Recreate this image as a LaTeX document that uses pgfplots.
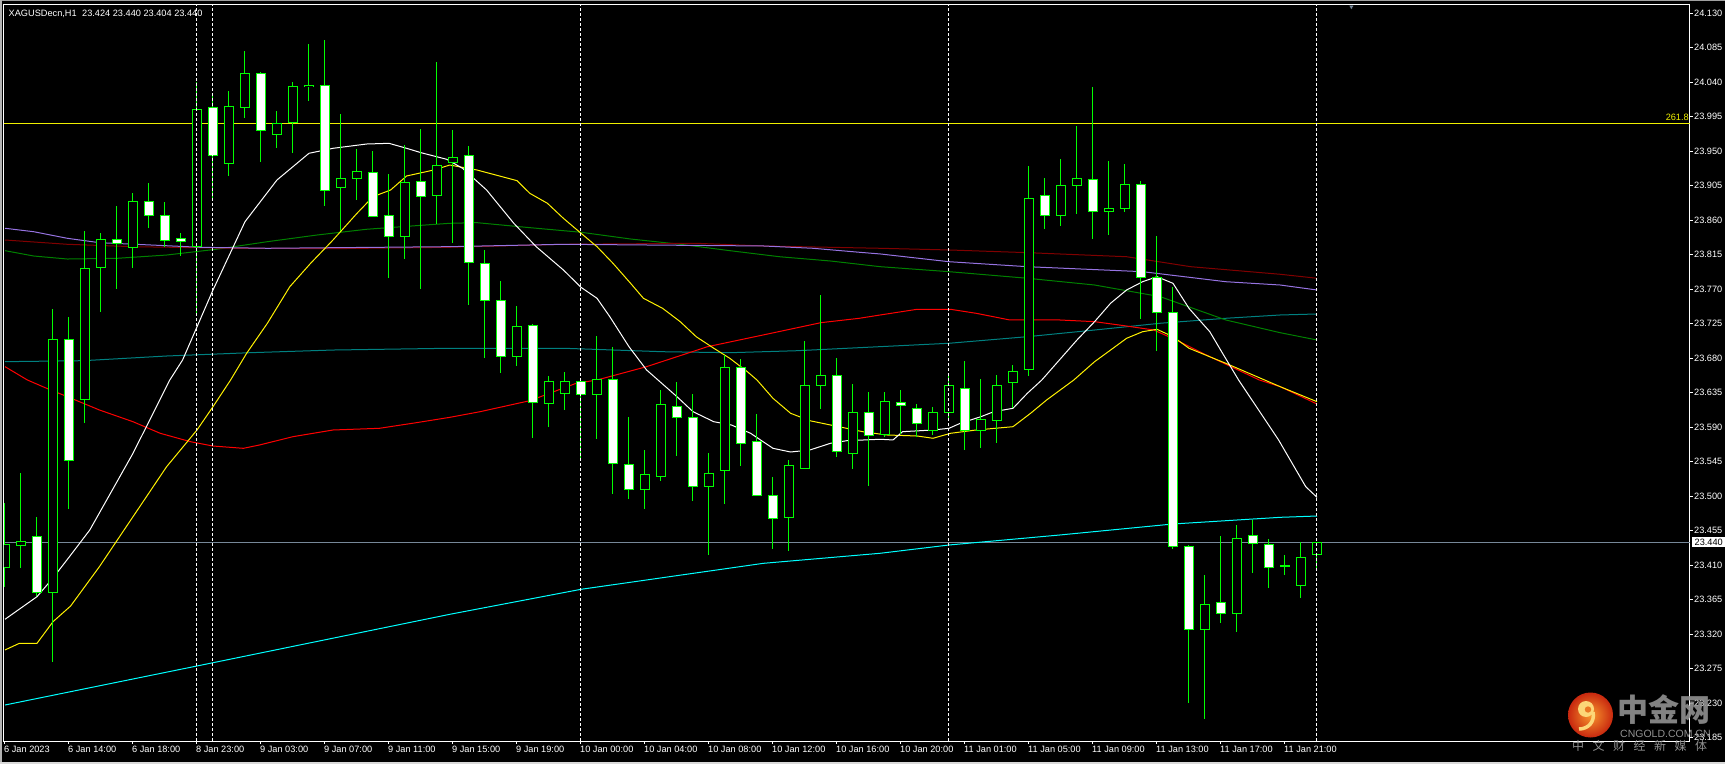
\documentclass[border=0pt]{standalone}
\usepackage{pgfplots}
\pgfplotsset{compat=1.18}
\usepackage{pgfplotstable}
\usepackage{fontspec}
\setmainfont{Liberation Sans}
\newfontfamily\cjk{Noto Sans CJK SC}
\definecolor{cgreen}{RGB}{0,255,0}
\definecolor{bidgray}{RGB}{119,136,153}
\definecolor{mapurple}{RGB}{150,115,225}
\definecolor{mamaroon}{RGB}{128,0,0}
\definecolor{magreen}{RGB}{0,128,0}
\definecolor{mateal}{RGB}{0,128,128}
\definecolor{macyan}{RGB}{0,255,255}
\definecolor{fibo}{RGB}{240,240,0}
\definecolor{wmgray}{RGB}{145,145,145}

\pgfplotstableread{
i O H L C
0 23.407 23.491 23.382 23.437
1 23.436 23.530 23.407 23.441
2 23.447 23.473 23.370 23.374
3 23.374 23.744 23.284 23.705
4 23.705 23.734 23.484 23.547
5 23.627 23.846 23.596 23.797
6 23.799 23.844 23.741 23.835
7 23.835 23.879 23.771 23.830
8 23.825 23.896 23.798 23.885
9 23.885 23.909 23.850 23.867
10 23.867 23.884 23.825 23.834
11 23.836 23.843 23.813 23.833
12 23.826 24.040 23.739 24.005
13 24.007 24.025 23.888 23.944
14 23.934 24.029 23.918 24.009
15 24.007 24.081 23.994 24.052
16 24.052 24.053 23.936 23.977
17 23.972 24.003 23.955 23.986
18 23.987 24.040 23.948 24.035
19 24.034 24.090 24.016 24.036
20 24.036 24.095 23.879 23.899
21 23.903 23.999 23.846 23.914
22 23.914 23.953 23.887 23.923
23 23.923 23.950 23.864 23.865
24 23.866 23.920 23.785 23.839
25 23.839 23.958 23.810 23.910
26 23.910 23.979 23.771 23.891
27 23.892 24.067 23.855 23.932
28 23.936 23.978 23.830 23.942
29 23.944 23.957 23.749 23.805
30 23.804 23.821 23.680 23.756
31 23.756 23.781 23.661 23.683
32 23.683 23.748 23.670 23.722
33 23.723 23.725 23.576 23.623
34 23.621 23.657 23.591 23.650
35 23.634 23.662 23.613 23.650
36 23.650 23.655 23.550 23.633
37 23.633 23.709 23.575 23.652
38 23.653 23.695 23.503 23.543
39 23.542 23.604 23.496 23.509
40 23.509 23.560 23.484 23.529
41 23.526 23.639 23.520 23.620
42 23.617 23.649 23.552 23.603
43 23.603 23.634 23.494 23.513
44 23.513 23.556 23.424 23.530
45 23.534 23.684 23.490 23.668
46 23.668 23.679 23.540 23.569
47 23.571 23.607 23.500 23.501
48 23.501 23.525 23.432 23.471
49 23.473 23.548 23.429 23.540
50 23.537 23.703 23.536 23.644
51 23.644 23.763 23.614 23.658
52 23.658 23.680 23.552 23.558
53 23.556 23.647 23.536 23.610
54 23.610 23.636 23.514 23.579
55 23.581 23.636 23.578 23.624
56 23.623 23.639 23.582 23.619
57 23.614 23.620 23.577 23.595
58 23.586 23.616 23.580 23.610
59 23.609 23.658 23.600 23.644
60 23.641 23.676 23.560 23.586
61 23.586 23.653 23.563 23.600
62 23.599 23.658 23.569 23.644
63 23.649 23.671 23.615 23.663
64 23.665 23.931 23.657 23.889
65 23.893 23.915 23.849 23.867
66 23.867 23.940 23.853 23.906
67 23.906 23.983 23.868 23.915
68 23.913 24.034 23.836 23.872
69 23.872 23.937 23.841 23.876
70 23.875 23.934 23.871 23.907
71 23.907 23.912 23.731 23.786
72 23.786 23.840 23.690 23.740
73 23.740 23.773 23.432 23.434
74 23.434 23.436 23.230 23.327
75 23.327 23.398 23.210 23.359
76 23.361 23.448 23.335 23.347
77 23.347 23.463 23.323 23.445
78 23.449 23.469 23.400 23.439
79 23.437 23.444 23.381 23.407
80 23.410 23.424 23.397 23.409
81 23.384 23.441 23.367 23.420
82 23.424 23.440 23.404 23.440
}\candles

\begin{document}
\begin{tikzpicture}[x=1pt,y=1pt]
\path[use as bounding box, fill=black] (0,0) rectangle (1725,764);
\fill[gray!75] (0,762.5) rectangle (1725,764);
\fill[gray!60] (0,0) rectangle (2,764);
\fill[gray!30] (0,0) rectangle (1725,2);
\begin{axis}[
  at={(4pt,23pt)}, anchor=south west, scale only axis,
  width=1686pt, height=736.3pt,
  xmin=-0.0625, xmax=105.3125, ymin=23.18086, ymax=24.14122,
  axis line style={white, line width=1pt},
  clip mode=individual,
  xtick={0,4,...,80},
  xticklabels={6 Jan 2023, 6 Jan 14:00, 6 Jan 18:00, 8 Jan 23:00, 9 Jan 03:00, 9 Jan 07:00, 9 Jan 11:00, 9 Jan 15:00, 9 Jan 19:00, 10 Jan 00:00, 10 Jan 04:00, 10 Jan 08:00, 10 Jan 12:00, 10 Jan 16:00, 10 Jan 20:00, 11 Jan 01:00, 11 Jan 05:00, 11 Jan 09:00, 11 Jan 13:00, 11 Jan 17:00, 11 Jan 21:00},
  ytick={23.185,23.230,23.275,23.320,23.365,23.410,23.455,23.500,23.545,23.590,23.635,23.680,23.725,23.770,23.815,23.860,23.905,23.950,23.995,24.040,24.085,24.130},
  xtick pos=left, ytick pos=right, yticklabel pos=right,
  tick align=outside, major tick length=3pt,
  tick style={white, line width=1pt},
  scaled y ticks=false,
  x tick label style={font=\fontsize{9.2}{10}\selectfont, text=white, anchor=north west, inner sep=0pt, xshift=-1pt, yshift=-2pt},
  y tick label style={font=\fontsize{9.2}{10}\selectfont, text=white, anchor=west, inner sep=0pt, xshift=1pt,
    /pgf/number format/.cd, fixed, fixed zerofill, precision=3, 1000 sep={}, assume math mode=true},
]
% horizontal lines
\addplot[bidgray, line width=1pt, forget plot] coordinates {(-0.0625,23.440) (105.3125,23.440)};
\addplot[fibo, line width=1pt, forget plot] coordinates {(-0.0625,23.9865) (105.3125,23.9865)};
% moving averages
\addplot[macyan, line width=1pt] coordinates {(0,23.2278) (12,23.2787) (27.8,23.3461) (36,23.3787) (47.4,23.4126) (54.7,23.4257) (59,23.4365) (65.9,23.4495) (73,23.4639) (79.7,23.4726) (82,23.4743)};
\addplot[mateal, line width=1pt] coordinates {(0,23.6756) (4.9,23.6769) (10.1,23.6830) (15.3,23.6873) (20.5,23.6908) (27.8,23.6931) (34.9,23.6931) (41.1,23.6886) (45.3,23.6873) (49.5,23.6899) (54.7,23.6952) (59,23.6996) (63.9,23.7082) (68.1,23.7169) (72.2,23.7257) (76.3,23.7322) (79.7,23.7365) (82,23.7378)};
\addplot[magreen, line width=1pt] coordinates {(0,23.8204) (1.8,23.8134) (3.9,23.8095) (7,23.8104) (10.1,23.8147) (13.2,23.8222) (16.4,23.8321) (19.5,23.8408) (22.6,23.8483) (25.7,23.8530) (27.8,23.8561) (29.5,23.8569) (32.8,23.8504) (36,23.8444) (39.1,23.8356) (42.2,23.8287) (45.3,23.8204) (48.4,23.8125) (51.6,23.8069) (54.7,23.7995) (59,23.7930) (63.9,23.7844) (68.1,23.7756) (72.2,23.7604) (76.3,23.7300) (79.7,23.7134) (82,23.7039)};
\addplot[mamaroon, line width=1pt] coordinates {(0,23.8343) (3.9,23.8287) (8,23.8256) (14.3,23.8235) (20.5,23.8230) (27.8,23.8248) (34.9,23.8287) (43.2,23.8300) (47.4,23.8265) (54.7,23.8235) (59,23.8213) (63.9,23.8178) (70.1,23.8125) (74.1,23.7995) (79.7,23.7896) (82,23.7844)};
\addplot[mapurple, line width=1pt] coordinates {(0,23.8496) (1.8,23.8451) (3.9,23.8365) (5.9,23.8308) (9.1,23.8278) (12.2,23.8248) (16.4,23.8235) (27.8,23.8256) (34.9,23.8287) (47.4,23.8265) (50.5,23.8235) (53.4,23.8183) (54.7,23.8161) (59,23.8060) (63.9,23.7995) (71.1,23.7930) (76.3,23.7799) (79.7,23.7756) (82,23.7691)};
\addplot[red, line width=1pt] coordinates {(0,23.6691) (1.4,23.6517) (2.6,23.6409) (3.9,23.6299) (5.9,23.6126) (8,23.5973) (9.7,23.5822) (11.6,23.5712) (13,23.5656) (14.9,23.5626) (15.9,23.5669) (18,23.5778) (20.5,23.5865) (23.4,23.5887) (25.7,23.5960) (27.8,23.6030) (29.7,23.6104) (32.8,23.6247) (35.7,23.6474) (37,23.6517) (40.1,23.6691) (43.9,23.6951) (47.4,23.7105) (51,23.7265) (53.4,23.7322) (54.7,23.7365) (57,23.7439) (59.1,23.7439) (60.7,23.7387) (62.8,23.7300) (65.9,23.7300) (68.1,23.7278) (70.1,23.7221) (71.8,23.7169) (73.2,23.7039) (75.3,23.6821) (78.4,23.6517) (79.7,23.6430) (82,23.6204)};
\addplot[yellow, line width=1pt] coordinates {(0,23.2996) (0.9,23.3083) (2,23.3083) (3,23.3365) (4.1,23.3569) (5.9,23.4082) (8,23.4734) (10.1,23.5386) (12,23.5865) (13,23.6169) (14.1,23.6517) (15.1,23.6865) (16.4,23.7257) (17.8,23.7734) (19.1,23.8039) (20.5,23.8343) (22,23.8691) (23,23.8908) (24.1,23.8995) (25.1,23.9178) (26.8,23.9256) (27.8,23.9321) (29.5,23.9256) (32,23.9117) (32.8,23.8952) (33.9,23.8822) (34.9,23.8626) (36,23.8431) (37,23.8256) (38,23.8039) (39.1,23.7778) (39.9,23.7583) (41.1,23.7452) (42.2,23.7278) (43.2,23.7082) (44.3,23.6931) (45.3,23.6800) (46.4,23.6625) (47,23.6517) (48,23.6278) (49.1,23.6083) (50.3,23.5986) (51.6,23.5930) (52.6,23.5887) (53.6,23.5843) (55.1,23.5800) (57,23.5787) (58,23.5757) (59.1,23.5822) (60.7,23.5865) (63,23.5908) (64.1,23.6083) (65.1,23.6256) (66.8,23.6517) (68.1,23.6756) (69.1,23.6908) (70.1,23.7061) (71.1,23.7147) (72,23.7178) (73,23.7082) (74,23.6931) (76.3,23.6735) (79.7,23.6430) (82,23.6234)};
\addplot[white, line width=1pt] coordinates {(0,23.3396) (2,23.3691) (3,23.3935) (4,23.4205) (5.3,23.4561) (8,23.5561) (10.3,23.6517) (11.1,23.6778) (13,23.7691) (15,23.8582) (17,23.9126) (19,23.9474) (20.5,23.9539) (22.6,23.9595) (24,23.9604) (25.1,23.9539) (26,23.9482) (27.6,23.9396) (28.6,23.9278) (30.1,23.8995) (31.8,23.8561) (33.2,23.8256) (34.9,23.7952) (36,23.7726) (37,23.7583) (37.8,23.7343) (39,23.6951) (40.1,23.6648) (42,23.6299) (43,23.6104) (44.3,23.5973) (45.4,23.5930) (46.6,23.5822) (48,23.5626) (49.1,23.5578) (50.3,23.5604) (51.6,23.5692) (52.6,23.5725) (54.7,23.5744) (55.5,23.5735) (56.1,23.5843) (58,23.5865) (59,23.5887) (59.7,23.5952) (61,23.6039) (61.8,23.6104) (63,23.6148) (63.9,23.6344) (64.8,23.6517) (65.9,23.6778) (67,23.7039) (68.1,23.7278) (69.1,23.7518) (70.1,23.7691) (71.1,23.7799) (72,23.7864) (73,23.7778) (74,23.7452) (75.3,23.7147) (76.1,23.6865) (77.1,23.6517) (79.6,23.5735) (81.3,23.5125) (82,23.4987)};
% candles: wicks
\addplot[draw=none, forget plot, error bars/.cd, y dir=both, y explicit, error mark=none, error bar style={draw=cgreen, line width=1pt}]
  table[x=i, y expr={(\thisrow{H}+\thisrow{L})/2}, y error expr={(\thisrow{H}-\thisrow{L})/2}] {\candles};
% bodies outline
\addplot[draw=none, forget plot, error bars/.cd, y dir=both, y explicit, error mark=none, error bar style={draw=cgreen, line width=10pt}]
  table[x=i, y expr={(\thisrow{O}+\thisrow{C})/2}, y error expr={abs(\thisrow{O}-\thisrow{C})/2+0.00065}] {\candles};
% bear bodies (white)
\addplot[draw=none, forget plot, error bars/.cd, y dir=both, y explicit, error mark=none, error bar style={draw=white, line width=8pt}]
  table[x=i, y expr={(\thisrow{O}+\thisrow{C})/2}, y error expr={(\thisrow{C}<\thisrow{O})*max(abs(\thisrow{O}-\thisrow{C})/2-0.00065,0)}] {\candles};
% bull bodies (black)
\addplot[draw=none, forget plot, error bars/.cd, y dir=both, y explicit, error mark=none, error bar style={draw=black, line width=8pt}]
  table[x=i, y expr={(\thisrow{O}+\thisrow{C})/2}, y error expr={(\thisrow{C}>=\thisrow{O})*max(abs(\thisrow{O}-\thisrow{C})/2-0.00065,0)}] {\candles};
% vertical dashed lines
\addplot[white, line width=1pt, dash pattern=on 3pt off 2pt, forget plot] coordinates {(12,23.18086) (12,24.14122)};
\addplot[white, line width=1pt, dash pattern=on 3pt off 2pt, forget plot] coordinates {(13,23.18086) (13,24.14122)};
\addplot[white, line width=1pt, dash pattern=on 3pt off 2pt, forget plot] coordinates {(36,23.18086) (36,24.14122)};
\addplot[white, line width=1pt, dash pattern=on 3pt off 2pt, forget plot] coordinates {(59,23.18086) (59,24.14122)};
\addplot[white, line width=1pt, dash pattern=on 3pt off 2pt, forget plot] coordinates {(82,23.18086) (82,24.14122)};
% shift marker
\addplot[only marks, mark=triangle*, mark size=3pt, mark options={rotate=180, fill=bidgray, draw=none}, forget plot] coordinates {(84.15,24.1385)};
% labels
\node[anchor=base east, inner sep=0pt, text=fibo, font=\fontsize{9.2}{10}\selectfont] at (axis cs:105.25,23.9865) [yshift=2.6pt] {261.8};
\node[anchor=west, fill=white, text=black, inner xsep=2.5pt, inner ysep=1.6pt, font=\fontsize{9.2}{10}\selectfont] at (axis cs:105.3125,23.440) [xshift=2pt] {23.440};
\end{axis}
% title
\node[anchor=base west, inner sep=0pt, text=white, font=\fontsize{9.2}{10}\selectfont] at (8.5,747.3) {XAGUSDecn,H1\hspace{5.5pt}23.424 23.440 23.404 23.440};
% watermark
\shade[inner color={rgb,255:red,248;green,150;blue,45}, outer color={rgb,255:red,200;green,40;blue,15}] (1590.5,49) circle (22.5);
\fill[color={rgb,255:red,252;green,215;blue,120}] (1586,55) circle (8);
\fill[color={rgb,255:red,235;green,120;blue,35}] (1588,54.5) circle (3.2);
\draw[line width=3.5pt, color={rgb,255:red,252;green,215;blue,120}] (1593,52) .. controls (1595,42) and (1588,35) .. (1579,35);
\node[anchor=west, inner sep=0pt, text=wmgray, opacity=0.9, font=\cjk\bfseries\fontsize{31}{31}\selectfont] at (1617,54) {中金网};
\node[anchor=base west, inner sep=0pt, text=wmgray, font=\fontsize{10.5}{11}\selectfont] at (1620,27) {CNGOLD.COM.CN};
\node[anchor=base west, inner sep=0pt, text=wmgray, font=\cjk\fontsize{12}{12}\selectfont] at (1572,13.5) {中\hspace{8.5pt}文\hspace{8.5pt}财\hspace{8.5pt}经\hspace{8.5pt}新\hspace{8.5pt}媒\hspace{8.5pt}体};
\end{tikzpicture}
\end{document}
